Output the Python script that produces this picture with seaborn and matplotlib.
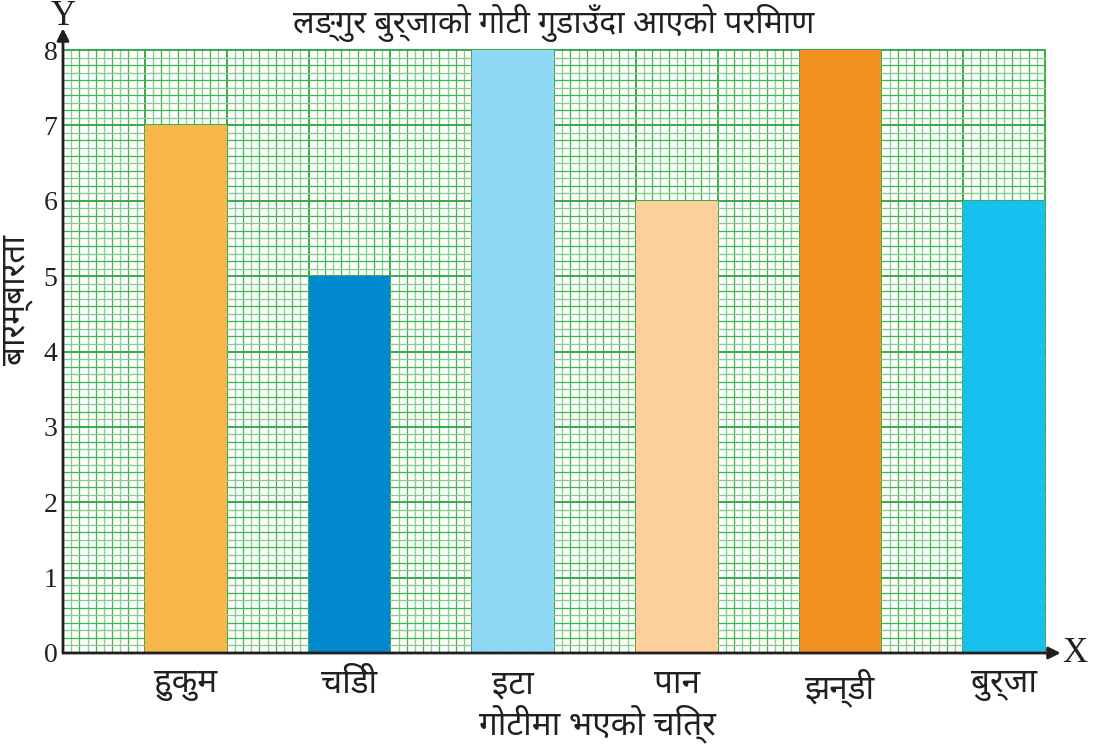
import matplotlib
matplotlib.use("Agg")
import matplotlib.pyplot as plt
from matplotlib import font_manager
import seaborn as sns
import pandas as pd

# ---- data ----
categories = ["हुकुम", "चिडी", "इटा", "पान", "झन्डी", "बुर्जा"]
values = [7, 5, 8, 6, 8, 6]
colors = ["#F8B74A", "#0089CF", "#8ED8F5", "#FDCF9B", "#F39220", "#18C0F0"]
y_ticks = [0, 1, 2, 3, 4, 5, 6, 7, 8]
title = "लङ्गुर बुर्जाको गोटी गुडाउँदा आएको परिमाण"
xlabel = "गोटीमा भएको चित्र"
ylabel = "बारम्बारता"

# ---- fonts ----
installed = {f.name for f in font_manager.fontManager.ttflist}
deva = next((f for f in ["Noto Sans Devanagari", "Hind", "Mukta", "Poppins",
                         "Anek Devanagari", "Amiko"] if f in installed), "DejaVu Sans")
serif = "Liberation Serif"
ink = "#231f20"

sns.set_theme(style="white")
plt.rcParams["font.family"] = [deva, "DejaVu Sans"]

df = pd.DataFrame({"cat": categories, "val": values})

fig = plt.figure(figsize=(11.07, 7.46), dpi=100)
ax = fig.add_axes([63 / 1107, 93 / 746, 982 / 1107, 603 / 746])

sns.barplot(data=df, x="cat", y="val", hue="cat", palette=colors,
            width=0.5, dodge=False, legend=False, saturation=1,
            edgecolor="none", linewidth=0, ax=ax, zorder=3)

x0, x1 = -0.75, 5.25
ax.set_xlim(x0, x1)
ax.set_ylim(0, 8)

# ---- graph-paper grid ----
minor_light = "#86cd8d"
minor_mid = "#43b652"
major = "#36ab48"
nx = int(round((x1 - x0) / 0.05))
for i in range(nx + 1):
    xv = x0 + i * 0.05
    if i % 10 == 0:
        c, lw = major, 1.4
    elif i % 2 == 0:
        c, lw = minor_mid, 0.95
    else:
        c, lw = minor_light, 0.95
    ax.axvline(xv, color=c, lw=lw, zorder=1, clip_on=False)
for j in range(81):
    yv = j * 0.1
    if j % 10 == 0:
        c, lw = major, 1.4
    elif j % 2 == 0:
        c, lw = minor_mid, 0.95
    else:
        c, lw = minor_light, 0.95
    ax.axhline(yv, color=c, lw=lw, zorder=1, clip_on=False)

for s in ["top", "right", "left", "bottom"]:
    ax.spines[s].set_visible(False)

# axes with arrows
ax.annotate("", xy=(0, 1.036), xytext=(0, 0), xycoords="axes fraction",
            arrowprops=dict(arrowstyle="-|>", color=ink, lw=2,
                            mutation_scale=18, shrinkA=0, shrinkB=0), zorder=5)
ax.annotate("", xy=(1.016, 0), xytext=(0, 0), xycoords="axes fraction",
            arrowprops=dict(arrowstyle="-|>", color=ink, lw=2,
                            mutation_scale=18, shrinkA=0, shrinkB=0), zorder=5)
ax.text(0.0, 1.042, "Y", transform=ax.transAxes, ha="center", va="baseline",
        fontsize=25, family=serif, color=ink)
ax.text(1.018, 0.0, "X", transform=ax.transAxes, ha="left", va="center",
        fontsize=25, family=serif, color=ink)

ax.set_yticks(y_ticks)
ax.set_yticklabels([str(v) for v in y_ticks], family=serif, fontsize=20,
                   color=ink)
ax.tick_params(axis="y", length=0, pad=4)
ax.tick_params(axis="x", length=0, pad=11, labelsize=24, labelcolor=ink)
ax.set_xticks(range(len(categories)))
ax.set_xticklabels(categories)

ax.set_xlabel(xlabel, fontsize=24, color=ink)
ax.xaxis.set_label_coords(0.544, -0.085)
ax.set_ylabel(ylabel, fontsize=24, color=ink)
ax.yaxis.set_label_coords(-0.031, 0.585)
ax.set_title(title, fontsize=23, color=ink, pad=12)

fig.savefig("out.png", dpi=100)
